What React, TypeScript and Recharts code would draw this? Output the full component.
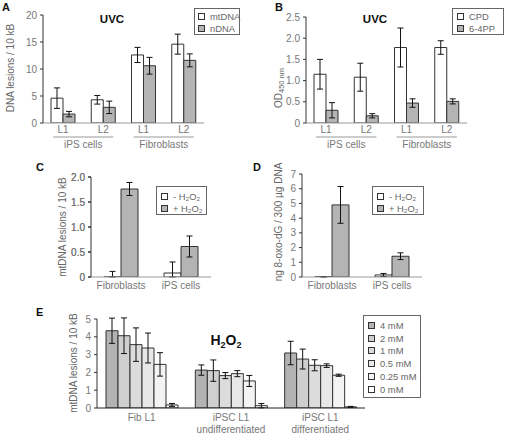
import { BarChart, Bar, XAxis, YAxis, ErrorBar, Legend } from 'recharts';

// ---- panel A: UVC lesions, mtDNA vs nDNA ----
const groupsA = ['iPS cells', 'Fibroblasts'];
const linesA = ['L1', 'L2', 'L1', 'L2'];
const mtDNA = [4.6, 4.3, 12.6, 14.6];
const mtDNAErr = [1.9, 0.8, 1.4, 1.85];
const nDNA = [1.65, 2.9, 10.6, 11.6];
const nDNAErr = [0.5, 1.15, 1.55, 1.2];
const ticksA = [0, 5, 10, 15, 20];

// ---- panel B: UVC photoproducts ----
const cpd = [1.15, 1.08, 1.78, 1.78];
const cpdErr = [0.35, 0.33, 0.46, 0.16];
const pp64 = [0.3, 0.17, 0.47, 0.51];
const pp64Err = [0.18, 0.05, 0.1, 0.06];
const ticksB = [0, 0.5, 1, 1.5, 2, 2.5];

// ---- panels C & D: H2O2 ----
const cellsCD = ['Fibroblasts', 'iPS cells'];
const mtMinus = [0.002, 0.08];
const mtMinusErr: [number, number][] = [[0.002, 0.11], [0.08, 0.22]];
const mtPlus = [1.76, 0.61];
const mtPlusErr = [0.13, 0.21];
const ticksC = [0, 0.5, 1, 1.5, 2];
const oxoMinus = [0.02, 0.14];
const oxoMinusErr: [number, number][] = [[0.02, 0], [0.1, 0.1]];
const oxoPlus = [4.9, 1.41];
const oxoPlusErr = [1.25, 0.23];
const ticksD = [0, 1, 2, 3, 4, 5, 6, 7];

// ---- panel E: H2O2 dose series ----
const groupsE = [['Fib L1'], ['iPSC L1', 'undifferentiated'], ['iPSC L1', 'differentiated']];
const doses = ['4 mM', '2 mM', '1 mM', '0.5 mM', '0.25 mM', '0 mM'];
const doseMeans = [
  [4.34, 2.13, 3.09],
  [4.06, 2.1, 2.75],
  [3.56, 1.82, 2.4],
  [3.37, 1.93, 2.38],
  [2.45, 1.52, 1.84],
  [0.17, 0.13, 0.06],
];
const doseErrs = [
  [0.71, 0.29, 0.66],
  [1.0, 0.6, 0.56],
  [0.94, 0.17, 0.31],
  [0.84, 0.17, 0.1],
  [0.66, 0.31, 0.06],
  [0.08, 0.12, 0.03],
];
const ticksE = [0, 1, 2, 3, 4, 5];

const FONT = '"Liberation Sans", Arial, sans-serif';
const TXT = '#666';
const EDGE = '#333';
const GRAY = '#b4b4b4';
const doseFills = ['#b3b3b3', '#cfcfcf', '#dcdcdc', '#e8e8e8', '#f3f3f3', '#ffffff'];
const tickStyle = { fill: '#777', fontSize: 10, fontFamily: FONT };
const oneDec = (v: number) => (v === 0 ? '0' : v.toFixed(1));

// panel C plot box (page coords), used for its y-axis labels
const C_LEFT = 91;
const C_TOP = 177;
const C_H = 100;
const C_MAX = 2;

const dataA = linesA.map((line, i) => ({
  name: `${groupsA[Math.floor(i / 2)]} ${line}`,
  mt: mtDNA[i], mtErr: mtDNAErr[i], n: nDNA[i], nErr: nDNAErr[i],
}));
const dataB = linesA.map((line, i) => ({
  name: `${groupsA[Math.floor(i / 2)]} ${line}`,
  cpd: cpd[i], cpdErr: cpdErr[i], pp: pp64[i], ppErr: pp64Err[i],
}));
const dataC = cellsCD.map((name, i) => ({
  name, minus: mtMinus[i], minusErr: mtMinusErr[i], plus: mtPlus[i], plusErr: mtPlusErr[i],
}));
const dataD = cellsCD.map((name, i) => ({
  name, minus: oxoMinus[i], minusErr: oxoMinusErr[i], plus: oxoPlus[i], plusErr: oxoPlusErr[i],
}));
const dataE = groupsE.map((g, i) => {
  const row: Record<string, any> = { name: g.join(' ') };
  doses.forEach((_, j) => {
    row[`d${j}`] = doseMeans[j][i];
    row[`e${j}`] = doseErrs[j][i];
  });
  return row;
});

const BAND_AB = 161 / 4;

function LineGroupTick(props: any) {
  const { x, y, index, band } = props;
  const first = index % 2 === 0;
  return (
    <g fontFamily={FONT} fontSize={10} fill="#777">
      <text x={x} y={y + 10} textAnchor="middle">{linesA[index]}</text>
      {first && (
        <>
          <line x1={x - 10} x2={x + band + 10} y1={y + 14} y2={y + 14} stroke="#999" />
          <text x={x + band / 2} y={y + 25} textAnchor="middle">{groupsA[index / 2]}</text>
        </>
      )}
    </g>
  );
}

function MultiTick(props: any) {
  const { x, y, index, rows, dy } = props;
  return (
    <g fontFamily={FONT} fontSize={10} fill="#777">
      {rows[index].map((r: string, k: number) => (
        <text key={k} x={x} y={y + dy + k * 12} textAnchor="middle">{r}</text>
      ))}
    </g>
  );
}

type Item = { name: string; fill: string };

function BoxLegend({ items, rowHeight, pad }: { items: Item[]; rowHeight: number; pad: string }) {
  return (
    <div style={{
      border: '1px solid #666', background: '#fff', padding: pad,
      boxSizing: 'border-box', height: '100%', fontFamily: FONT,
    }}>
      {items.map((it) => (
        <div key={it.name} style={{
          display: 'flex', alignItems: 'center', height: rowHeight,
          fontSize: 9.4, color: TXT, whiteSpace: 'nowrap',
        }}>
          <span style={{
            flex: '0 0 auto', boxSizing: 'border-box', width: 7, height: 7,
            border: `1px solid ${EDGE}`, background: it.fill, marginRight: 5,
          }} />
          {it.name}
        </div>
      ))}
    </div>
  );
}

function legendAt(left: number, top: number, width: number, height: number, items: Item[], rowHeight: number, pad: string) {
  return (
    <Legend
      layout="horizontal"
      verticalAlign="middle"
      align="center"
      wrapperStyle={{ position: 'absolute', left, top, width, height }}
      content={() => <BoxLegend items={items} rowHeight={rowHeight} pad={pad} />}
    />
  );
}

const yAxisProps = {
  type: 'number' as const,
  tickSize: 3,
  tickMargin: 3,
  interval: 0 as const,
  allowDataOverflow: true,
  axisLine: { stroke: EDGE },
  tickLine: { stroke: EDGE },
};

const barProps = { stroke: EDGE, strokeWidth: 1, isAnimationActive: false };
const errProps = { stroke: '#111', strokeWidth: 1, width: 3 };

function Panel({ left, top, children }: { left: number; top: number; children: React.ReactNode }) {
  return <div style={{ position: 'absolute', left, top }}>{children}</div>;
}

const h2o2Items = [{ name: '- H₂O₂', fill: '#fff' }, { name: '+ H₂O₂', fill: GRAY }];

export default function App() {
  return (
    <div style={{
      position: 'absolute', left: 0, top: 0, width: 506, height: 435,
      background: '#fff', fontFamily: FONT, overflow: 'hidden',
    }}>
      <Panel left={0} top={0}>
        <BarChart width={210} height={160} data={dataA} margin={{ top: 15, right: 6, left: 0, bottom: 0 }} barGap={0}>
          <XAxis dataKey="name" height={37} interval={0} tickSize={0} tickMargin={0} tickLine={false}
            axisLine={{ stroke: '#999' }}
            tick={(p: any) => <LineGroupTick {...p} band={BAND_AB} />} />
          <YAxis width={43} domain={[0, 20]} ticks={ticksA} tick={tickStyle} {...yAxisProps} />
          <Bar dataKey="mt" name="mtDNA" fill="#fff" barSize={12} {...barProps}>
            <ErrorBar dataKey="mtErr" {...errProps} />
          </Bar>
          <Bar dataKey="n" name="nDNA" fill={GRAY} barSize={12} {...barProps}>
            <ErrorBar dataKey="nErr" {...errProps} />
          </Bar>
          {legendAt(194, 8, 46, 27, [{ name: 'mtDNA', fill: '#fff' }, { name: 'nDNA', fill: GRAY }], 12.5, '1px 3px')}
        </BarChart>
      </Panel>

      <Panel left={253} top={0}>
        <BarChart width={214} height={160} data={dataB} margin={{ top: 17, right: 0, left: 0, bottom: 0 }} barGap={0}>
          <XAxis dataKey="name" height={37} interval={0} tickSize={0} tickMargin={0} tickLine={false}
            axisLine={{ stroke: '#999' }}
            tick={(p: any) => <LineGroupTick {...p} band={BAND_AB} />} />
          <YAxis width={53} domain={[0, 2.5]} ticks={ticksB} tickFormatter={oneDec} tick={tickStyle} {...yAxisProps} />
          <Bar dataKey="cpd" name="CPD" fill="#fff" barSize={12} {...barProps}>
            <ErrorBar dataKey="cpdErr" {...errProps} />
          </Bar>
          <Bar dataKey="pp" name="6-4PP" fill={GRAY} barSize={12} {...barProps}>
            <ErrorBar dataKey="ppErr" {...errProps} />
          </Bar>
          {legendAt(199, 8, 52, 27, [{ name: 'CPD', fill: '#fff' }, { name: '6-4PP', fill: GRAY }], 12.5, '1px 4px')}
        </BarChart>
      </Panel>

      <Panel left={40} top={145}>
        <BarChart width={175} height={150} data={dataC} margin={{ top: 32, right: 4, left: 0, bottom: 0 }} barGap={0}>
          <XAxis dataKey="name" height={18} interval={0} tickSize={0} tickMargin={0} tickLine={false}
            axisLine={{ stroke: '#999' }}
            tick={(p: any) => <MultiTick {...p} rows={cellsCD.map((c) => [c])} dy={12} />} />
          <YAxis width={51} domain={[0, C_MAX]} ticks={ticksC} tickFormatter={oneDec} tick={tickStyle} {...yAxisProps} />
          <Bar dataKey="minus" fill="#fff" barSize={17} {...barProps}>
            <ErrorBar dataKey="minusErr" {...errProps} />
          </Bar>
          <Bar dataKey="plus" fill={GRAY} barSize={17} {...barProps}>
            <ErrorBar dataKey="plusErr" {...errProps} />
          </Bar>
          {legendAt(116, 41, 51, 29, h2o2Items, 12, '3px 4px')}
        </BarChart>
      </Panel>

      <Panel left={253} top={145}>
        <BarChart width={173} height={150} data={dataD} margin={{ top: 29, right: 4, left: 0, bottom: 0 }} barGap={0}>
          <XAxis dataKey="name" height={18} interval={0} tickSize={0} tickMargin={0} tickLine={false}
            axisLine={{ stroke: '#999' }}
            tick={(p: any) => <MultiTick {...p} rows={cellsCD.map((c) => [c])} dy={12} />} />
          <YAxis width={49} domain={[0, 7]} ticks={ticksD} tick={tickStyle} {...yAxisProps} />
          <Bar dataKey="minus" fill="#fff" barSize={17} {...barProps}>
            <ErrorBar dataKey="minusErr" {...errProps} />
          </Bar>
          <Bar dataKey="plus" fill={GRAY} barSize={17} {...barProps}>
            <ErrorBar dataKey="plusErr" {...errProps} />
          </Bar>
          {legendAt(119, 41, 52, 29, h2o2Items, 12, '3px 4px')}
        </BarChart>
      </Panel>

      <Panel left={0} top={290}>
        <BarChart width={368} height={145} data={dataE} margin={{ top: 29, right: 3, left: 0, bottom: 0 }} barGap={0}>
          <XAxis dataKey="name" height={27} interval={0} tickSize={0} tickMargin={0} tickLine={false}
            axisLine={{ stroke: '#222' }}
            tick={(p: any) => <MultiTick {...p} rows={groupsE} dy={13} />} />
          <YAxis width={97} domain={[0, 5]} ticks={ticksE} tick={tickStyle} {...yAxisProps} />
          {doses.map((d, j) => (
            <Bar key={d} dataKey={`d${j}`} name={d} fill={doseFills[j]} barSize={12} {...barProps}>
              <ErrorBar dataKey={`e${j}`} {...errProps} />
            </Bar>
          ))}
          {legendAt(363, 25, 58, 83, doses.map((d, j) => ({ name: d, fill: doseFills[j] })), 12.8, '3px 4px')}
        </BarChart>
      </Panel>

      <svg width={506} height={435} style={{ position: 'absolute', left: 0, top: 0, pointerEvents: 'none' }}
        fontFamily={FONT}>
        <g fontWeight="bold" fontSize={11} fill="#111">
          <text x={2} y={11}>A</text>
          <text x={275} y={11}>B</text>
          <text x={36} y={171}>C</text>
          <text x={253} y={171}>D</text>
          <text x={36} y={316}>E</text>
        </g>
        <g fontWeight="bold" fontSize={11.5} fill="#111" textAnchor="middle">
          <text x={112} y={23}>UVC</text>
          <text x={375} y={23}>UVC</text>
        </g>
        <text x={226} y={345} fontWeight="bold" fontSize={14} fill="#111" textAnchor="middle">
          H<tspan fontSize={9} dy={3}>2</tspan><tspan dy={-3}>O</tspan><tspan fontSize={9} dy={3}>2</tspan>
        </text>
        <g fontSize={10} fill={TXT} textAnchor="middle">
          <text transform="translate(13.5,68) rotate(-90)">DNA lesions / 10 kB</text>
          <text transform="translate(281.5,88) rotate(-90)">
            OD<tspan fontSize={7.5} dy={2}>450 nm</tspan>
          </text>
          <text transform="translate(65.5,227) rotate(-90)">mtDNA lesions / 10 kB</text>
          <text transform="translate(281.5,222) rotate(-90)">ng 8-oxo-dG / 300 µg DNA</text>
          <text transform="translate(76.5,363) rotate(-90)">mtDNA lesions / 10 kB</text>
        </g>
        {/* panel C y-axis values (its own axis ticks fail to show in this build) */}
        <g fontSize={10} fill="#777" textAnchor="end">
          {ticksC.map((v) => {
            const y = C_TOP + C_H - (v / C_MAX) * C_H;
            return (
              <g key={v}>
                <line x1={C_LEFT - 3} x2={C_LEFT} y1={y} y2={y} stroke={EDGE} />
                <text x={C_LEFT - 6} y={y + 3.5}>{oneDec(v)}</text>
              </g>
            );
          })}
        </g>
      </svg>
    </div>
  );
}
